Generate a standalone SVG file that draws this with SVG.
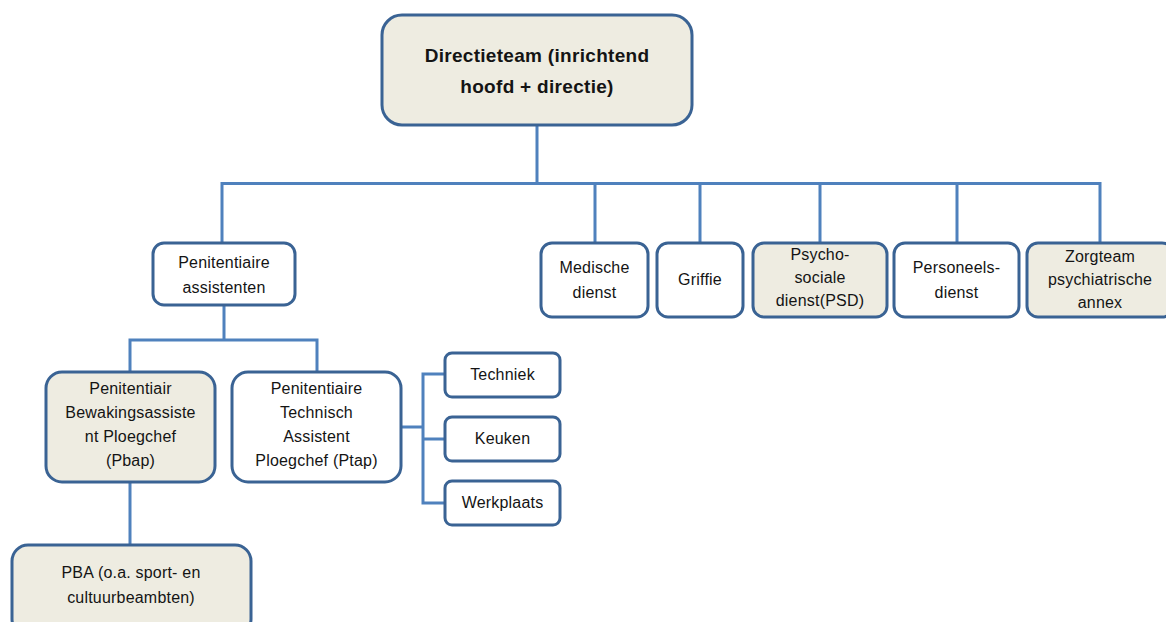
<svg xmlns="http://www.w3.org/2000/svg" width="1166" height="622" viewBox="0 0 1166 622">
  <style>
    .box { stroke: #3a6394; stroke-width: 3; }
    .white { fill: #ffffff; }
    .beige { fill: #eeece1; }
    .link { fill: none; stroke: #4f81bd; stroke-width: 3; }
    text { font-family: "Liberation Sans", Arial, sans-serif; font-size: 16px; fill: #141414; text-anchor: middle; letter-spacing: 0.2px; }
    .title { font-size: 19px; font-weight: bold; letter-spacing: 0.3px; }
  </style>
  <rect width="1166" height="622" fill="#ffffff"/>

  <!-- connectors -->
  <g id="connectors">
    <path class="link" d="M537 125 V183.5 M222 183.5 H1101 M222 182 V243 M595 182 V243 M700 182 V243 M820 182 V243 M957 182 V243 M1100 182 V243"/>
    <path class="link" d="M224 305 V340 M130 340 H317 M130 338.5 V372 M317 338.5 V372"/>
    <path class="link" d="M401 427 H423 M423 374 V503 M421.5 374 H445 M421.5 439 H445 M421.5 503 H445"/>
    <path class="link" d="M130 482 V545"/>
  </g>

  <g id="directieteam">
    <rect class="box beige" x="382" y="15" width="310" height="110" rx="20"/>
    <text class="title" x="537" y="62">Directieteam (inrichtend</text>
    <text class="title" x="537" y="93">hoofd + directie)</text>
  </g>

  <g id="penitentiaire-assistenten">
    <rect class="box white" x="153" y="243" width="142" height="62" rx="11"/>
    <text x="224" y="268">Penitentiaire</text>
    <text x="224" y="293">assistenten</text>
  </g>

  <g id="medische-dienst">
    <rect class="box white" x="541" y="243" width="107" height="74" rx="11"/>
    <text x="594.5" y="273">Medische</text>
    <text x="594.5" y="298">dienst</text>
  </g>

  <g id="griffie">
    <rect class="box white" x="657" y="243" width="86" height="74" rx="11"/>
    <text x="700" y="285">Griffie</text>
  </g>

  <g id="psd">
    <rect class="box beige" x="753" y="243" width="134" height="74" rx="11"/>
    <text x="820" y="260">Psycho-</text>
    <text x="820" y="283">sociale</text>
    <text x="820" y="306">dienst(PSD)</text>
  </g>

  <g id="personeelsdienst">
    <rect class="box white" x="894" y="243" width="125" height="74" rx="11"/>
    <text x="956.5" y="273">Personeels-</text>
    <text x="956.5" y="298">dienst</text>
  </g>

  <g id="zorgteam">
    <rect class="box beige" x="1027" y="243" width="146" height="74" rx="11"/>
    <text x="1100" y="262">Zorgteam</text>
    <text x="1100" y="285">psychiatrische</text>
    <text x="1100" y="308">annex</text>
  </g>

  <g id="pbap">
    <rect class="box beige" x="46" y="372" width="169" height="110" rx="16"/>
    <text x="130.5" y="394">Penitentiair</text>
    <text x="130.5" y="418">Bewakingsassiste</text>
    <text x="130.5" y="442">nt Ploegchef</text>
    <text x="130.5" y="466">(Pbap)</text>
  </g>

  <g id="ptap">
    <rect class="box white" x="232" y="372" width="169" height="110" rx="16"/>
    <text x="316.5" y="394">Penitentiaire</text>
    <text x="316.5" y="418">Technisch</text>
    <text x="316.5" y="442">Assistent</text>
    <text x="316.5" y="466">Ploegchef (Ptap)</text>
  </g>

  <g id="techniek">
    <rect class="box white" x="445" y="353" width="115" height="44" rx="7"/>
    <text x="502.5" y="380">Techniek</text>
  </g>

  <g id="keuken">
    <rect class="box white" x="445" y="417" width="115" height="44" rx="7"/>
    <text x="502.5" y="444">Keuken</text>
  </g>

  <g id="werkplaats">
    <rect class="box white" x="445" y="481" width="115" height="44" rx="7"/>
    <text x="502.5" y="508">Werkplaats</text>
  </g>

  <g id="pba">
    <rect class="box beige" x="12" y="545" width="239" height="90" rx="16"/>
    <text x="131" y="578">PBA (o.a. sport- en</text>
    <text x="131" y="603">cultuurbeambten)</text>
  </g>
</svg>
